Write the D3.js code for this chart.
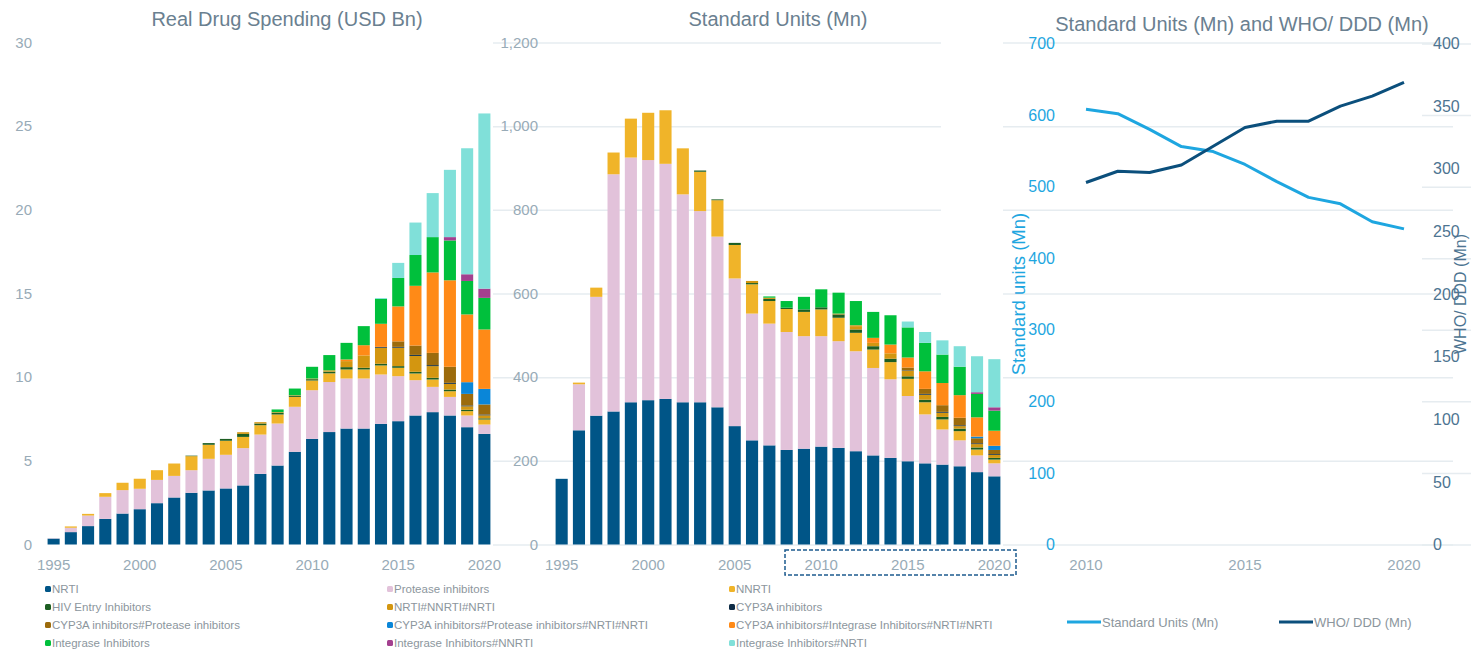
<!DOCTYPE html>
<html>
<head>
<meta charset="utf-8">
<script src="https://cdn.jsdelivr.net/npm/d3@7/dist/d3.min.js"></script>
<style>
  body { margin: 0; background: #fff; }
  svg text { font-family: "Liberation Sans", Arial, sans-serif; }
</style>
</head>
<body>
<script>
// categories
var years = [1995, 1996, 1997, 1998, 1999, 2000, 2001, 2002, 2003, 2004, 2005, 2006, 2007,
             2008, 2009, 2010, 2011, 2012, 2013, 2014, 2015, 2016, 2017, 2018, 2019, 2020];
var yearTicks = [1995, 2000, 2005, 2010, 2015, 2020];
var lineYears = [2010, 2011, 2012, 2013, 2014, 2015, 2016, 2017, 2018, 2019, 2020];
var lineTicks = [2010, 2015, 2020];

var seriesNames = ["NRTI", "Protease inhibitors", "NNRTI",
  "HIV Entry Inhibitors", "NRTI#NNRTI#NRTI", "CYP3A inhibitors",
  "CYP3A inhibitors#Protease inhibitors", "CYP3A inhibitors#Protease inhibitors#NRTI#NRTI",
  "CYP3A inhibitors#Integrase Inhibitors#NRTI#NRTI",
  "Integrase Inhibitors", "Integrase Inhibitors#NNRTI", "Integrase Inhibitors#NRTI"];
var seriesColors = ["#005587", "#e2c2da", "#f0b429", "#1d5e22", "#d39610", "#0d2b45",
  "#9c6b0c", "#0a86d8", "#ff8a17", "#00c03c", "#a3408f", "#80e0d9"];

// Real drug spending (USD Bn), 1995-2020
var spendNrti      = [0.35, 0.74, 1.1, 1.53, 1.85, 2.11, 2.47, 2.81, 3.09, 3.23, 3.35, 3.53, 4.22, 4.72, 5.54, 6.31, 6.72, 6.93, 6.93, 7.21, 7.37, 7.71, 7.91, 7.71, 7.01, 6.61];
var spendProtease  = [0.02, 0.26, 0.63, 1.32, 1.4, 1.22, 1.39, 1.29, 1.35, 1.89, 2.01, 2.23, 2.35, 2.51, 2.69, 2.91, 2.99, 2.99, 2.99, 2.95, 2.69, 2.11, 1.51, 1.11, 0.7, 0.56];
var spendNnrti     = [0, 0.08, 0.1, 0.22, 0.44, 0.6, 0.58, 0.74, 0.84, 0.84, 0.84, 0.67, 0.56, 0.54, 0.59, 0.58, 0.52, 0.54, 0.54, 0.54, 0.5, 0.4, 0.44, 0.34, 0.26, 0.3];
var spendEntry     = [0, 0, 0, 0, 0, 0, 0, 0, 0.03, 0.1, 0.11, 0.18, 0.1, 0.1, 0.07, 0.08, 0.1, 0.14, 0.1, 0.1, 0.1, 0.1, 0.1, 0.1, 0.08, 0.07];
var spendNrtiCombo = [0, 0, 0, 0, 0, 0, 0, 0, 0, 0, 0, 0.1, 0.08, 0.04, 0.03, 0.04, 0.08, 0.36, 0.74, 0.96, 1.1, 0.95, 0.7, 0.34, 0.21, 0.18];
var spendCyp3a     = [0, 0, 0, 0, 0, 0, 0, 0, 0, 0, 0, 0, 0, 0, 0, 0, 0, 0, 0, 0.05, 0.05, 0.06, 0.06, 0.06, 0.05, 0.05];
var spendCypPi     = [0, 0, 0, 0, 0, 0, 0, 0, 0, 0, 0, 0, 0, 0, 0, 0, 0, 0, 0, 0, 0.33, 0.56, 0.73, 0.96, 0.69, 0.6];
var spendCypPiNrti = [0, 0, 0, 0, 0, 0, 0, 0, 0, 0, 0, 0, 0, 0, 0, 0, 0, 0, 0, 0, 0, 0, 0, 0, 0.7, 0.93];
var spendCypInNrti = [0, 0, 0, 0, 0, 0, 0, 0, 0, 0, 0, 0, 0, 0, 0, 0, 0, 0.1, 0.61, 1.38, 2.09, 3.57, 4.81, 5.17, 4.05, 3.55];
var spendInteg     = [0, 0, 0, 0, 0, 0, 0, 0, 0, 0, 0, 0, 0, 0.16, 0.4, 0.7, 0.91, 0.99, 1.14, 1.49, 1.7, 1.84, 2.11, 2.38, 2.0, 1.89];
var spendIntNnrti  = [0, 0, 0, 0, 0, 0, 0, 0, 0, 0, 0, 0, 0, 0, 0, 0, 0, 0, 0, 0, 0, 0, 0, 0.2, 0.4, 0.55];
var spendIntNrti   = [0, 0, 0, 0, 0, 0, 0, 0, 0, 0, 0, 0, 0, 0, 0, 0, 0, 0, 0, 0.05, 0.9, 1.94, 2.63, 4.02, 7.53, 10.47];

// Standard units (Mn), 1995-2020
var unitsNrti      = [157, 273, 308, 318, 340, 345, 348, 340, 340, 328, 283, 249, 237, 226, 229, 234, 231, 223, 213, 207, 199, 194, 191, 187, 173, 163];
var unitsProtease  = [0, 110, 284, 567, 585, 574, 562, 497, 457, 408, 353, 303, 291, 282, 269, 264, 255, 239, 209, 188, 156, 117, 84, 62, 40, 31];
var unitsNnrti     = [0, 4, 22, 52, 93, 113, 128, 110, 94, 87, 80, 70, 54, 55, 58, 64, 56, 44, 44, 41, 41, 29, 24, 22, 14, 9];
var unitsEntry     = [0, 0, 0, 0, 0, 0, 0, 0, 3, 2, 5, 3, 5, 3, 6, 5, 8, 8, 8, 8, 6, 6, 6, 6, 5, 4];
var unitsNrtiCombo = [0, 0, 0, 0, 0, 0, 0, 0, 0, 0, 0, 5, 3, 0, 0, 0, 2, 8, 8, 13, 14, 12, 10, 6, 8, 7];
var unitsCyp3a     = [0, 0, 0, 0, 0, 0, 0, 0, 0, 0, 0, 0, 0, 0, 0, 0, 0, 0, 0, 0, 1, 2, 2, 2, 2, 2];
var unitsCypPi     = [0, 0, 0, 0, 0, 0, 0, 0, 0, 0, 0, 0, 0, 0, 0, 0, 0, 0, 0, 0, 6, 12, 16, 18, 12, 10];
var unitsCypPiNrti = [0, 0, 0, 0, 0, 0, 0, 0, 0, 0, 0, 0, 0, 0, 0, 0, 0, 0, 0, 0, 0, 0, 0, 0, 4, 10];
var unitsCypInNrti = [0, 0, 0, 0, 0, 0, 0, 0, 0, 0, 0, 0, 0, 0, 0, 0, 0, 2, 12, 21, 24, 42, 53, 54, 46, 36];
var unitsInteg     = [0, 0, 0, 0, 0, 0, 0, 0, 0, 0, 0, 0, 3, 16, 30, 43, 50, 58, 62, 70, 72, 68, 68, 68, 56, 48];
var unitsIntNnrti  = [0, 0, 0, 0, 0, 0, 0, 0, 0, 0, 0, 0, 0, 0, 0, 0, 0, 0, 0, 0, 0, 0, 0, 0, 4, 8];
var unitsIntNrti   = [0, 0, 0, 0, 0, 0, 0, 0, 0, 0, 0, 0, 0, 0, 0, 0, 0, 0, 0, 0, 14, 26, 34, 49, 86, 115];

// lines, 2010-2020
var standardUnits = [608, 602, 580, 556, 549, 531, 507, 485, 476, 451, 441];
var whoDdd        = [289, 298, 297, 303, 318, 333, 338, 338, 350, 358, 369];

var spendSeries = [spendNrti, spendProtease, spendNnrti, spendEntry, spendNrtiCombo, spendCyp3a,
  spendCypPi, spendCypPiNrti, spendCypInNrti, spendInteg, spendIntNnrti, spendIntNrti];
var unitsSeries = [unitsNrti, unitsProtease, unitsNnrti, unitsEntry, unitsNrtiCombo, unitsCyp3a,
  unitsCypPi, unitsCypPiNrti, unitsCypInNrti, unitsInteg, unitsIntNnrti, unitsIntNrti];

var w = 1471, h = 651;
var titleColor = "#6a8090", tickColor = "#98abb7", gridColor = "#e6ecf0";
var lightBlue = "#1ea6e0", darkBlue = "#0b4f7c";

var svg = d3.select("body").append("svg").attr("width", w).attr("height", h);

var plotTop = 42.5, plotBottom = 544.5;

function barChart(left, right, yMax, yStep, fmt, labelPad, title, titleX, data) {
	var g = svg.append("g");

	var rows = years.map(function(yr, i) {
		var r = {year: yr};
		seriesNames.forEach(function(n, k) { r[n] = data[k][i]; });
		return r;
	});
	var stacked = d3.stack().keys(seriesNames)(rows);

	var x = d3.scaleBand().domain(years).range([left, right]).paddingInner(0.3).paddingOuter(0.15);
	var y = d3.scaleLinear().domain([0, yMax]).range([plotBottom, plotTop]);

	// grid + y labels
	var yAxis = d3.axisLeft(y).tickValues(d3.range(0, yMax + 1, yStep))
		.tickSize(left - right).tickPadding(labelPad).tickFormat(fmt);
	g.append("g").attr("transform", "translate(" + right + ",0)").call(yAxis)
		.call(function(a) {
			a.select(".domain").remove();
			a.selectAll("line").attr("stroke", gridColor).attr("stroke-width", 1.5);
			a.selectAll("text").attr("fill", tickColor).style("font-size", "15px")
				.attr("x", -(right - left) - labelPad);
		});

	// bars
	g.selectAll("g.layer").data(stacked).enter().append("g")
		.attr("class", "layer")
		.attr("fill", function(d, i) { return seriesColors[i]; })
		.selectAll("rect").data(function(d) { return d; }).enter().append("rect")
		.attr("x", function(d) { return x(d.data.year); })
		.attr("width", x.bandwidth())
		.attr("y", function(d) { return y(d[1]); })
		.attr("height", function(d) { return Math.max(0, y(d[0]) - y(d[1])); });

	// x labels
	g.selectAll("text.xl").data(yearTicks).enter().append("text")
		.attr("class", "xl")
		.attr("x", function(d) { return x(d) + x.bandwidth() / 2; })
		.attr("y", 570)
		.attr("text-anchor", "middle")
		.attr("fill", tickColor).style("font-size", "15px")
		.text(function(d) { return d; });

	g.append("text")
		.attr("x", titleX).attr("y", 26)
		.attr("text-anchor", "middle").attr("fill", titleColor)
		.style("font-size", "20px")
		.text(title);
}

barChart(45, 493, 30, 5, d3.format("d"), 13, "Real Drug Spending (USD Bn)", 287, spendSeries);
barChart(553, 1003, 1200, 200, d3.format(",d"), 15, "Standard Units (Mn)", 778, unitsSeries);

// dashed box around 2010-2020 labels
svg.append("rect")
	.attr("x", 785).attr("y", 550).attr("width", 231).attr("height", 25)
	.attr("fill", "none").attr("stroke", "#1c5b8e").attr("stroke-width", 1.5)
	.attr("stroke-dasharray", "4,2");

// line chart
var lx0 = 1068, lx1 = 1422;
var lg = svg.append("g");
var lx = d3.scaleLinear().domain([2010, 2020]).range([1086, 1404]);
var ly = d3.scaleLinear().domain([0, 700]).range([plotBottom, plotTop + 1]);
var ry = d3.scaleLinear().domain([0, 400]).range([plotBottom, plotTop + 1]);

lg.append("g").attr("transform", "translate(" + lx1 + ",0)")
	.call(d3.axisLeft(ly).tickValues(d3.range(0, 701, 100)).tickSize(lx0 - lx1).tickPadding(13))
	.call(function(a) {
		a.select(".domain").remove();
		a.selectAll("line").attr("stroke", gridColor).attr("stroke-width", 1.5);
		a.selectAll("text").attr("fill", lightBlue).style("font-size", "16px")
			.attr("x", -(lx1 - lx0) - 13);
	});

lg.append("g").attr("transform", "translate(" + lx1 + ",0)")
	.call(d3.axisRight(ry).tickValues(d3.range(0, 401, 50)).tickSize(0).tickPadding(11))
	.call(function(a) {
		a.select(".domain").remove();
		a.selectAll("text").attr("fill", "#4d7491").style("font-size", "16px");
	});

lg.selectAll("text.xl").data(lineTicks).enter().append("text")
	.attr("x", function(d) { return lx(d); }).attr("y", 570)
	.attr("text-anchor", "middle").attr("fill", tickColor).style("font-size", "15px")
	.text(function(d) { return d; });

var suLine = d3.line().x(function(d, i) { return lx(lineYears[i]); }).y(function(d) { return ly(d); });
var whoLine = d3.line().x(function(d, i) { return lx(lineYears[i]); }).y(function(d) { return ry(d); });

lg.append("path").datum(standardUnits).attr("d", suLine)
	.attr("fill", "none").attr("stroke", lightBlue).attr("stroke-width", 3).attr("stroke-linejoin", "round");
lg.append("path").datum(whoDdd).attr("d", whoLine)
	.attr("fill", "none").attr("stroke", darkBlue).attr("stroke-width", 3).attr("stroke-linejoin", "round");

lg.append("text")
	.attr("x", 1242).attr("y", 31)
	.attr("text-anchor", "middle").attr("fill", titleColor).style("font-size", "20px")
	.text("Standard Units (Mn) and WHO/ DDD (Mn)");

lg.append("text")
	.attr("transform", "translate(1025,294) rotate(-90)")
	.attr("text-anchor", "middle").attr("fill", lightBlue).style("font-size", "18.5px")
	.text("Standard units (Mn)");
lg.append("text")
	.attr("transform", "translate(1466,294) rotate(-90)")
	.attr("text-anchor", "middle").attr("fill", "#4d7491").style("font-size", "16px")
	.text("WHO/ DDD (Mn)");

// line legend
var lineLegend = [
	{name: "Standard Units (Mn)", color: lightBlue, x: 1067},
	{name: "WHO/ DDD (Mn)", color: darkBlue, x: 1279}
];
lineLegend.forEach(function(d) {
	lg.append("line").attr("x1", d.x).attr("x2", d.x + 34).attr("y1", 622).attr("y2", 622)
		.attr("stroke", d.color).attr("stroke-width", 3);
	lg.append("text").attr("x", d.x + 35).attr("y", 622).attr("dy", "0.35em")
		.attr("fill", "#8c969d").style("font-size", "13px").text(d.name);
});

// bar legend
var legendCols = [45, 387, 729];
var legendRows = [589, 607, 625, 643];
var leg = svg.append("g").selectAll("g").data(seriesNames).enter().append("g")
	.attr("transform", function(d, i) {
		return "translate(" + legendCols[i % 3] + "," + legendRows[Math.floor(i / 3)] + ")";
	});
leg.append("rect").attr("x", 0).attr("y", -3).attr("width", 6).attr("height", 6).attr("rx", 1.5)
	.attr("fill", function(d, i) { return seriesColors[i]; });
leg.append("text").attr("x", 7).attr("dy", "0.35em")
	.attr("fill", "#8c969d").style("font-size", "11.5px")
	.text(function(d) { return d; });
</script>
</body>
</html>
